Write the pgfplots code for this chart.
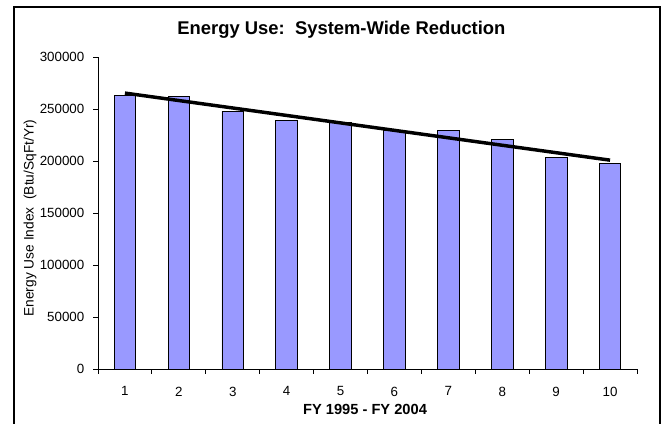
\documentclass[border=0pt]{standalone}
\usepackage{fontspec}
\setmainfont{Liberation Sans}
\usepackage{pgfplots}
\pgfplotsset{compat=1.18}
\definecolor{barfill}{HTML}{9999FF}
\begin{document}
\begin{tikzpicture}
\useasboundingbox (0,0) rectangle (496.5pt,318pt);
\draw[line width=1.1pt] (10.5pt,-3pt) rectangle (495pt,312.75pt);
\begin{axis}[
  at={(73.5pt,41.25pt)}, anchor=south west,
  width=404.25pt, height=234pt, scale only axis,
  xmin=0.5, xmax=10.5, ymin=0, ymax=300000,
  axis lines*=left,
  axis line style={black, line width=0.6pt},
  tick align=outside,
  major tick length=3.75pt, minor tick length=3.75pt,
  tick style={black, line width=0.6pt},
  xtick={1,2,...,10},
  major x tick style={draw=none},
  minor xtick={0.5,1.5,...,10.5},
  ytick={0,50000,...,300000},
  scaled y ticks=false,
  /pgf/number format/fixed,
  /pgf/number format/precision=0,
  /pgf/number format/assume math mode=true,
  /pgf/number format/1000 sep={},
  ticklabel style={font=\fontsize{10}{12}\selectfont},
  xticklabel style={yshift=-6pt},
  yticklabel style={xshift=-3pt},
  ybar, bar width=0.4,
]
\addplot[fill=barfill, draw=black, line width=0.6pt] coordinates {
  (1,263000) (2,262000) (3,248000) (4,239000) (5,237000)
  (6,229500) (7,229000) (8,221000) (9,203000) (10,198000)
};
\addplot[sharp plot, black, line width=2.6pt] coordinates {(1,265300) (10,200800)};
\end{axis}
\node[font=\fontsize{13.8}{16}\bfseries\selectfont] at (256.1pt,296pt) {Energy Use:\ \ System-Wide Reduction};
\node[font=\fontsize{11}{13}\bfseries\selectfont] at (273.75pt,11.25pt) {FY 1995 - FY 2004};
\node[rotate=90, font=\fontsize{10.3}{12}\selectfont] at (22.5pt,154.5pt) {Energy Use Index\ \ (Btu/SqFt/Yr)};
\end{tikzpicture}
\end{document}
